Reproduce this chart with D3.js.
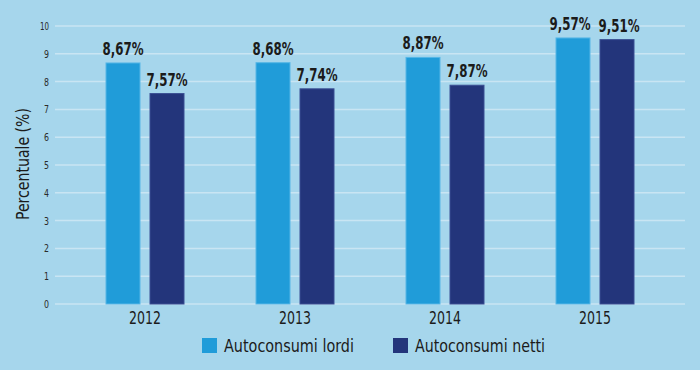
<!DOCTYPE html>
<html>
<head>
<meta charset="utf-8">
<script src="https://cdn.jsdelivr.net/npm/d3@7"></script>
<style>
  body { margin: 0; background: #a6d6ec; }
  svg { display: block; }
  text { font-family: "DejaVu Sans Condensed", "Liberation Sans Narrow", sans-serif; fill: #1b1b1b; }
</style>
</head>
<body>
<script>
// data
var years = ["2012", "2013", "2014", "2015"];
var lordi = [8.67, 8.68, 8.87, 9.57];
var netti = [7.57, 7.74, 7.87, 9.51];
var series = ["Autoconsumi lordi", "Autoconsumi netti"];
var yTicks = [0, 1, 2, 3, 4, 5, 6, 7, 8, 9, 10];

var width = 700, height = 370;
var colors = { lordi: "#209cd9", netti: "#23357b", grid: "#c9e5f3", bg: "#a6d6ec" };

var svg = d3.select("body").append("svg")
  .attr("width", width)
  .attr("height", height);

svg.append("rect").attr("width", width).attr("height", height).attr("fill", colors.bg);

// scales
var x = d3.scaleBand().domain(years).range([70, 670]).padding(0);
var y = d3.scaleLinear().domain([0, 10]).range([304, 26]);
var barW = 34, gap = 10;

// grid
svg.append("g")
  .selectAll("line")
  .data(yTicks)
  .enter().append("line")
  .attr("x1", 55).attr("x2", 685)
  .attr("y1", d => y(d)).attr("y2", d => y(d))
  .style("stroke", colors.grid)
  .style("stroke-width", 1.5);

// y axis
var yAxis = g => g
  .attr("transform", "translate(49,0)")
  .call(d3.axisLeft(y).tickValues(yTicks).tickSize(0).tickPadding(0))
  .call(g => g.select(".domain").remove())
  .call(g => g.selectAll("text")
    .attr("textLength", d => d >= 10 ? 9 : 5)
    .attr("lengthAdjust", "spacingAndGlyphs")
    .style("font-size", "11px")
    .style("fill", "#2a2a2a")
    .style("font-family", "\"DejaVu Sans Condensed\", sans-serif"));
svg.append("g").call(yAxis);

// x axis labels
var xAxis = g => g
  .attr("transform", "translate(0,304)")
  .call(d3.axisBottom(x).tickSize(0).tickPadding(7))
  .call(g => g.select(".domain").remove())
  .call(g => g.selectAll("text")
    .attr("textLength", 32)
    .attr("lengthAdjust", "spacingAndGlyphs")
    .style("font-size", "18px")
    .style("fill", "#1b1b1b")
    .style("font-family", "\"DejaVu Sans Condensed\", sans-serif"));
svg.append("g").call(xAxis);

// y title
svg.append("text")
  .attr("transform", "translate(29,164) rotate(-90)")
  .attr("text-anchor", "middle")
  .attr("textLength", 112)
  .attr("lengthAdjust", "spacingAndGlyphs")
  .style("font-size", "18px")
  .text("Percentuale (%)");

var fmt = v => d3.format(".2f")(v).replace(".", ",") + "%";

// bars
var groups = svg.append("g")
  .selectAll("g")
  .data(years)
  .enter().append("g")
  .attr("transform", d => "translate(" + (x(d) + x.bandwidth() / 2) + ",0)");

var barData = (d, i) => [
  { key: "lordi", v: lordi[i], dx: -gap / 2 - barW },
  { key: "netti", v: netti[i], dx: gap / 2 }
];

groups.each(function(d, i) {
  var g = d3.select(this);
  var bars = barData(d, i);
  /* labels that sit at the same height get pushed apart a little */
  var crowded = Math.abs(lordi[i] - netti[i]) < 0.5;
  g.selectAll("rect")
    .data(bars)
    .enter().append("rect")
    .attr("x", b => b.dx)
    .attr("y", b => y(b.v))
    .attr("width", barW)
    .attr("height", b => y(0) - y(b.v))
    .style("fill", b => colors[b.key])
    .style("stroke", b => b.key == "lordi" ? "#56b6e6" : "#3a4f93")
    .style("stroke-width", 1);
  /* tall narrow bold labels: smaller font stretched vertically */
  g.selectAll("text.val")
    .data(bars)
    .enter().append("text")
    .attr("class", "val")
    .attr("transform", b => "translate(" + (b.dx + barW / 2 + (crowded ? (b.key == "lordi" ? -3 : 2) : 0)) +
                           "," + (y(b.v) - 8) + ") scale(1,1.22)")
    .attr("text-anchor", "middle")
    .attr("textLength", 41)
    .attr("lengthAdjust", "spacingAndGlyphs")
    .style("font-size", "15px")
    .style("font-weight", "bold")
    .text(b => fmt(b.v));
});

// legend
var legend = svg.append("g")
  .selectAll("g")
  .data(series)
  .enter().append("g")
  .attr("transform", (d, i) => "translate(" + (202 + i * 191) + ",338)");
legend.append("rect")
  .attr("width", 15).attr("height", 15)
  .style("fill", (d, i) => i == 0 ? colors.lordi : colors.netti);
legend.append("text")
  .attr("x", 22).attr("y", 14)
  .attr("textLength", 130)
  .attr("lengthAdjust", "spacingAndGlyphs")
  .style("font-size", "18px")
  .text(d => d);
</script>
</body>
</html>
